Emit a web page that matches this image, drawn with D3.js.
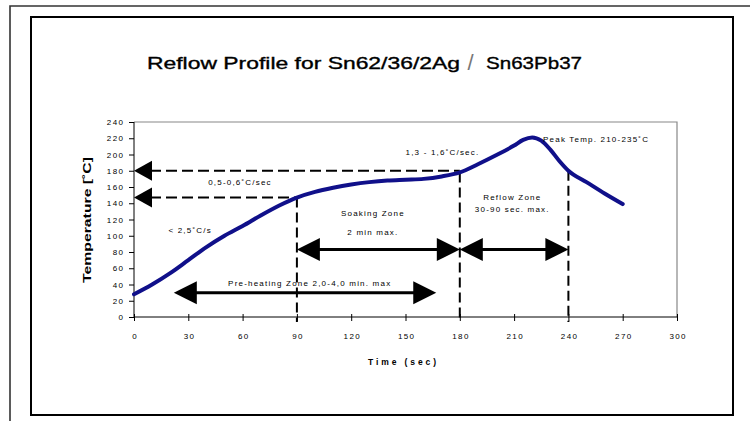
<!DOCTYPE html>
<html lang="en">
  <head>
    <meta charset="UTF-8" />
    <title>Reflow Profile</title>
    <style>
      body {
        margin: 0;
        background: #fff;
      }
      text {
        font-family: "Liberation Sans", Arial, sans-serif;
        fill: #000;
      }
      .tick text {
        font-size: 8px;
        letter-spacing: 1.4px;
      }
      .note {
        font-size: 8px;
        letter-spacing: 1.2px;
      }
      .title {
        stroke: #000;
        stroke-width: 0.35px;
      }
    </style>
  </head>
  <body>
    <svg id="chart"></svg>
    <script src="https://cdnjs.cloudflare.com/ajax/libs/d3/7.8.5/d3.min.js"></script>
    <script>
      // profile
      const profileTime = [0, 10, 20, 30, 40, 50, 60, 70, 80, 90, 100, 110, 120, 130, 140, 150, 160, 170, 180, 190, 200, 210, 215, 220, 225, 230, 235, 240, 250, 260, 270];
      const profileTemp = [28, 40, 54, 70, 86, 100, 112, 125, 137, 147, 154, 159, 163, 166, 168, 169, 170, 173, 178, 188, 199, 211, 218, 221, 217, 206, 192, 180, 166, 152, 139];

      const timeTicks = [0, 30, 60, 90, 120, 150, 180, 210, 240, 270, 300];
      const tempTicks = [0, 20, 40, 60, 80, 100, 120, 140, 160, 180, 200, 220, 240];

      // dashed level lines (arrow at the axis) and zone boundaries
      const levelTemps = [180, 147];
      const levelEnds = [180, 90];
      const boundaryTimes = [90, 180, 240];

      // double arrows: from, to, level
      const zoneFrom = [90, 180, 22];
      const zoneTo = [180, 240, 167];
      const zoneLevel = [83, 83, 30];

      const notes = ["0,5-0,6˚C/sec", "< 2,5˚C/s", "1,3 - 1,6˚C/sec.", "Peak Temp. 210-235˚C", "Soaking Zone", "2 min max.", "Reflow Zone", "30-90 sec. max.", "Pre-heating Zone 2,0-4,0 min. max"];
      const noteTime = [41, 19, 150, 226, 132, 132, 209, 209, 52];
      const noteTemp = [162, 103, 200, 216, 124, 101, 144, 129, 38];
      const noteAnchor = ["start", "start", "start", "start", "middle", "middle", "middle", "middle", "start"];

      const W = 750, H = 421;
      const svg = d3.select("#chart").attr("width", W).attr("height", H);

      // frames
      svg.append("path").attr("d", "M10,421V6H750").attr("fill", "none").attr("stroke", "#333").attr("stroke-width", 1.6);
      svg.append("rect").attr("x", 31).attr("y", 17).attr("width", 702).attr("height", 398)
        .attr("fill", "none").attr("stroke", "#000").attr("stroke-width", 2);

      // title
      svg.append("text").attr("class", "title").attr("x", 147).attr("y", 68.5).attr("font-size", 17)
        .attr("textLength", 313).attr("lengthAdjust", "spacingAndGlyphs").text("Reflow Profile for Sn62/36/2Ag");
      svg.append("text").attr("x", 470.5).attr("y", 69.5).attr("font-size", 22).attr("text-anchor", "middle")
        .style("fill", "#777").text("/");
      svg.append("text").attr("class", "title").attr("x", 486).attr("y", 68.5).attr("font-size", 17)
        .attr("textLength", 96).attr("lengthAdjust", "spacingAndGlyphs").text("Sn63Pb37");

      const x = d3.scaleLinear().domain([0, 300]).range([134, 677]);
      const y = d3.scaleLinear().domain([0, 240]).range([317, 122]);

      // plot border (top / right grey)
      svg.append("path").attr("d", `M${x(0)},${y(240)}H${x(300)}V${y(0)}`)
        .attr("fill", "none").attr("stroke", "#888").attr("stroke-width", 1.2);

      // axes
      const yAxis = svg.append("g").attr("transform", `translate(${x(0)},0)`)
        .call(d3.axisLeft(y).tickValues(tempTicks).tickSize(5).tickPadding(6));
      yAxis.selectAll("text").attr("dx", "1.4px");
      const xAxis = svg.append("g").attr("transform", `translate(0,${y(0)})`)
        .call(d3.axisBottom(x).tickValues(timeTicks).tickSize(4).tickPadding(12));
      xAxis.selectAll(".tick line").attr("y1", -3);
      xAxis.selectAll("text").attr("dx", "0.7px");
      svg.selectAll(".domain").attr("stroke", "#000");
      yAxis.select(".domain").attr("d", `M0,${y(240)}V${y(0)}`);
      xAxis.select(".domain").attr("d", `M${x(0)},0H${x(300)}`);

      // axis titles
      svg.append("text").attr("transform", `translate(91,220) rotate(-90)`).attr("text-anchor", "middle")
        .attr("font-size", 10).attr("font-weight", "bold")
        .attr("textLength", 126).attr("lengthAdjust", "spacingAndGlyphs").text("Temperature [˚C]");
      svg.append("text").attr("x", 368).attr("y", 365).attr("font-size", 8.5).attr("font-weight", "bold")
        .attr("textLength", 68).text("Time (sec)");

      const tempAt = (t) => profileTemp[profileTime.indexOf(t)];

      // zone boundaries
      svg.selectAll(".bound").data(boundaryTimes).join("line").attr("class", "bound")
        .attr("x1", (d) => x(d)).attr("x2", (d) => x(d))
        .attr("y1", (d) => y(tempAt(d))).attr("y2", y(0) + 5)
        .attr("stroke", "#000").attr("stroke-width", 2).attr("stroke-dasharray", "10,5");

      // level lines with arrow at axis
      const head = (tipX, yy, dir, len, half) =>
        `M${tipX},${yy}L${tipX + dir * len},${yy - half}L${tipX + dir * len},${yy + half}Z`;

      levelTemps.forEach((tp, i) => {
        svg.append("line").attr("x1", x(0) + 16).attr("x2", x(levelEnds[i]))
          .attr("y1", y(tp)).attr("y2", y(tp))
          .attr("stroke", "#000").attr("stroke-width", 2).attr("stroke-dasharray", "11,5");
        svg.append("path").attr("d", head(x(0), y(tp), 1, 18, 10)).attr("fill", "#000");
      });

      // double arrows
      zoneFrom.forEach((f, i) => {
        const yy = y(zoneLevel[i]);
        svg.append("line").attr("x1", x(f) + 20).attr("x2", x(zoneTo[i]) - 20)
          .attr("y1", yy).attr("y2", yy).attr("stroke", "#000").attr("stroke-width", 3);
        svg.append("path").attr("d", head(x(f), yy, 1, 23, 11.5)).attr("fill", "#000");
        svg.append("path").attr("d", head(x(zoneTo[i]), yy, -1, 23, 11.5)).attr("fill", "#000");
      });

      // profile curve
      const line = d3.line().x((d) => x(d[0])).y((d) => y(d[1])).curve(d3.curveMonotoneX);
      svg.append("path").datum(d3.zip(profileTime, profileTemp)).attr("d", line)
        .attr("fill", "none").attr("stroke", "#10108a").attr("stroke-width", 4)
        .attr("stroke-linecap", "round").attr("stroke-linejoin", "round");

      // notes
      svg.selectAll(".note").data(notes).join("text").attr("class", "note")
        .attr("x", (d, i) => x(noteTime[i])).attr("y", (d, i) => y(noteTemp[i]))
        .attr("text-anchor", (d, i) => noteAnchor[i]).text((d) => d);
    </script>
  </body>
</html>
